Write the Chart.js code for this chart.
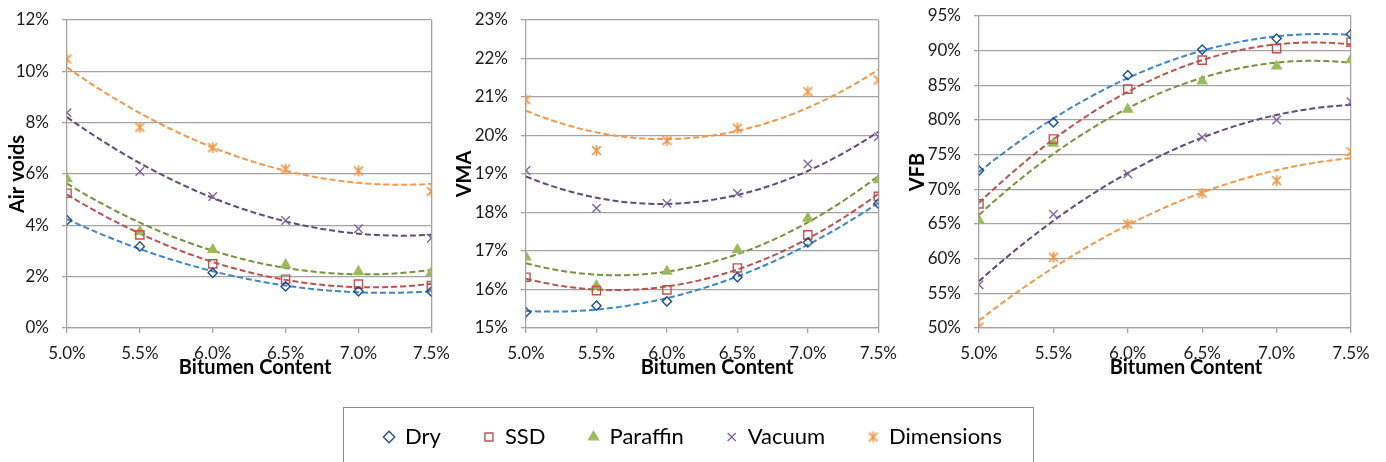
<!DOCTYPE html>
<html>
<head>
<meta charset="utf-8">
<script src="https://cdn.jsdelivr.net/npm/chart.js@4.4.0/dist/chart.umd.min.js"></script>
<style>
  body { margin: 0; background: #fff; width: 1386px; height: 462px; overflow: hidden; position: relative; }
  .pane { position: absolute; }
  #legendBorder { position: absolute; left: 343px; top: 407px; width: 691px; height: 80px; border: 1px solid #8c8c8c; box-sizing: border-box; }
</style>
</head>
<body>
<div class="pane" style="left:0;top:0"><canvas id="airChart" width="460" height="390"></canvas></div>
<div class="pane" style="left:447px;top:0"><canvas id="vmaChart" width="460" height="390"></canvas></div>
<div class="pane" style="left:900px;top:0"><canvas id="vfbChart" width="486" height="390"></canvas></div>
<div id="legendBorder"></div>
<div class="pane" style="left:243px;top:383px"><canvas id="legendChart" width="900" height="260"></canvas></div>

<script>
// Bitumen content (%) on the x axis
const bitumen = [5.0, 5.5, 6.0, 6.5, 7.0, 7.5];
const seriesNames = ['Dry', 'SSD', 'Paraffin', 'Vacuum', 'Dimensions'];
const xTitle = 'Bitumen Content';

// Air voids (%)
const airDry        = [4.2, 3.18, 2.15, 1.62, 1.43, 1.42];
const airSSD        = [5.25, 3.63, 2.5, 1.9, 1.71, 1.65];
const airParaffin   = [5.81, 3.76, 3.05, 2.46, 2.2, 2.16];
const airVacuum     = [8.39, 6.1, 5.12, 4.19, 3.87, 3.5];
const airDimensions = [10.48, 7.82, 7.03, 6.19, 6.12, 5.32];

// VMA (%)
const vmaDry        = [15.41, 15.58, 15.69, 16.32, 17.22, 18.23];
const vmaSSD        = [16.32, 15.97, 15.99, 16.56, 17.42, 18.42];
const vmaParaffin   = [16.84, 16.1, 16.47, 17.03, 17.85, 18.85];
const vmaVacuum     = [19.09, 18.11, 18.24, 18.5, 19.26, 19.97];
const vmaDimensions = [20.93, 19.61, 19.87, 20.19, 21.14, 21.44];

// VFB (%)
const vfbDry        = [72.7, 79.65, 86.47, 90.16, 91.75, 92.37];
const vfbSSD        = [67.9, 77.26, 84.45, 88.63, 90.3, 91.22];
const vfbParaffin   = [65.5, 76.63, 81.53, 85.6, 87.76, 88.72];
const vfbVacuum     = [56.24, 66.4, 72.2, 77.5, 79.99, 82.63];
const vfbDimensions = [50.14, 60.22, 64.97, 69.43, 71.26, 75.43];

const gridColor = '#a3a3a3';
const fontFamily = 'Lato, "Liberation Sans", sans-serif';

// star marker like the Excel one (x with a vertical bar)
function starMarker(color, size) {
  const c = document.createElement('canvas');
  c.width = c.height = size;
  const g = c.getContext('2d');
  const m = size / 2, r = size / 2 - 1;
  g.strokeStyle = color;
  g.lineWidth = 1.6;
  g.beginPath();
  g.moveTo(m - r * 0.8, m - r * 0.8); g.lineTo(m + r * 0.8, m + r * 0.8);
  g.moveTo(m + r * 0.8, m - r * 0.8); g.lineTo(m - r * 0.8, m + r * 0.8);
  g.moveTo(m, m - r); g.lineTo(m, m + r);
  g.stroke();
  return c;
}

const styles = [
  { marker: '#1f4e8c', trend: '#3d85cf', pointStyle: 'rectRot', radius: 4.6, fill: 'rgba(0,0,0,0)' },
  { marker: '#c0504d', trend: '#c0504d', pointStyle: 'rect', radius: 5.8, fill: 'rgba(0,0,0,0)' },
  { marker: '#9bbb59', trend: '#76923c', pointStyle: 'triangle', radius: 5.4, fill: '#9bbb59' },
  { marker: '#8064a2', trend: '#604a7b', pointStyle: 'crossRot', radius: 6, fill: 'rgba(0,0,0,0)' },
  { marker: '#f79646', trend: '#f79646', pointStyle: starMarker('#f79646', 13), radius: 6, fill: 'rgba(0,0,0,0)' }
];

// 2nd order polynomial trendline (least squares), like Excel's
function quadFit(xs, ys) {
  const S = [0, 0, 0, 0, 0], T = [0, 0, 0];
  xs.forEach((x, i) => {
    for (let k = 0; k < 5; k++) S[k] += Math.pow(x, k);
    for (let k = 0; k < 3; k++) T[k] += ys[i] * Math.pow(x, k);
  });
  const M = [[S[0], S[1], S[2], T[0]], [S[1], S[2], S[3], T[1]], [S[2], S[3], S[4], T[2]]];
  for (let i = 0; i < 3; i++) {
    for (let j = i + 1; j < 3; j++) {
      const f = M[j][i] / M[i][i];
      for (let k = i; k < 4; k++) M[j][k] -= f * M[i][k];
    }
  }
  const c = [0, 0, 0];
  for (let i = 2; i >= 0; i--) {
    let s = M[i][3];
    for (let k = i + 1; k < 3; k++) s -= M[i][k] * c[k];
    c[i] = s / M[i][i];
  }
  return c;
}

function trendPoints(ys) {
  const c = quadFit(bitumen, ys);
  const pts = [];
  const x0 = bitumen[0], x1 = bitumen[bitumen.length - 1];
  for (let i = 0; i <= 60; i++) {
    const x = x0 + (x1 - x0) * i / 60;
    pts.push({ x: x, y: c[0] + c[1] * x + c[2] * x * x });
  }
  return pts;
}

// x axis title, drawn a bit right of the plot centre as in the original
const xTitlePlugin = {
  id: 'xTitle',
  afterDraw(chart, args, opts) {
    const ctx = chart.ctx;
    const area = chart.chartArea;
    ctx.save();
    ctx.font = 'bold 20px ' + fontFamily;
    ctx.fillStyle = '#000';
    ctx.textAlign = 'center';
    ctx.textBaseline = 'middle';
    ctx.fillText(xTitle, (area.left + area.right) / 2 + opts.shift, 368);
    ctx.restore();
  }
};

function buildChart(id, seriesList, yMin, yMax, yStep, yTitle, layout) {
  const datasets = [];
  seriesList.forEach((ys, i) => {
    const st = styles[i];
    datasets.push({
      label: seriesNames[i],
      data: bitumen.map((x, k) => ({ x: x, y: ys[k] })),
      showLine: false,
      pointStyle: st.pointStyle,
      pointRadius: st.radius,
      pointBorderWidth: 1.4,
      pointBorderColor: st.marker,
      pointBackgroundColor: st.fill,
      borderColor: st.marker,
      backgroundColor: st.fill,
      order: 0
    });
    datasets.push({
      label: seriesNames[i] + ' trend',
      data: trendPoints(ys),
      showLine: true,
      pointRadius: 0,
      borderColor: st.trend,
      borderWidth: 2,
      borderDash: [6, 3],
      tension: 0,
      order: 1
    });
  });

  return new Chart(document.getElementById(id), {
    type: 'scatter',
    data: { datasets: datasets },
    plugins: [xTitlePlugin],
    options: {
      responsive: false,
      animation: false,
      layout: { padding: { left: 0, right: layout.right, top: layout.top, bottom: 0 } },
      plugins: {
        legend: { display: false },
        tooltip: { enabled: false },
        xTitle: { shift: layout.titleShift }
      },
      scales: {
        x: {
          type: 'linear',
          min: 5, max: 7.5,
          afterFit: function(scale) { scale.height = 62; },
          ticks: {
            stepSize: 0.5, maxRotation: 0, padding: 10, color: '#1a1a1a',
            font: { family: fontFamily, size: 17 },
            callback: v => v.toFixed(1) + '%'
          },
          grid: {
            color: ctx => (ctx.tick && ctx.tick.value === 7.5) ? gridColor : 'rgba(0,0,0,0)',
            tickColor: gridColor, tickLength: 5, lineWidth: 1.3
          },
          border: { color: gridColor, width: 1.3 }
        },
        y: {
          min: yMin, max: yMax,
          afterFit: function(scale) { scale.width = layout.yWidth; },
          ticks: {
            stepSize: yStep, padding: 13, color: '#1a1a1a',
            // small lineHeight keeps the label overhang from pushing the plot down
            font: { family: fontFamily, size: 17, lineHeight: 0.3 },
            callback: v => v + '%'
          },
          grid: { color: gridColor, tickColor: gridColor, tickLength: 5, lineWidth: 1.3 },
          border: { color: gridColor, width: 1.3 },
          title: {
            display: true, text: yTitle, color: '#000',
            font: { family: fontFamily, size: 20, weight: 'bold' },
            padding: { top: 6, bottom: 0 }
          }
        }
      }
    }
  });
}

buildChart('airChart', [airDry, airSSD, airParaffin, airVacuum, airDimensions], 0, 12, 2, 'Air voids',
  { yWidth: 67, right: 28, top: 20, titleShift: 6 });
buildChart('vmaChart', [vmaDry, vmaSSD, vmaParaffin, vmaVacuum, vmaDimensions], 15, 23, 1, 'VMA',
  { yWidth: 79, right: 25, top: 20, titleShift: 15 });
buildChart('vfbChart', [vfbDry, vfbSSD, vfbParaffin, vfbVacuum, vfbDimensions], 50, 95, 5, 'VFB',
  { yWidth: 79, right: 35, top: 16, titleShift: 21 });

// shared legend (tall canvas so the legend box is not capped at half the height)
new Chart(document.getElementById('legendChart'), {
  type: 'scatter',
  data: {
    datasets: seriesNames.map((name, i) => ({
      label: name,
      data: [],
      pointStyle: styles[i].pointStyle,
      pointRadius: styles[i].radius,
      pointBorderWidth: 1.4,
      borderColor: styles[i].marker,
      backgroundColor: styles[i].fill,
      borderWidth: 1.4
    }))
  },
  options: {
    responsive: false,
    animation: false,
    scales: { x: { display: false }, y: { display: false } },
    plugins: {
      tooltip: { enabled: false },
      legend: {
        display: true,
        position: 'top',
        labels: {
          usePointStyle: true,
          boxWidth: 10,
          boxHeight: 8,
          padding: 43,
          color: '#000',
          font: { family: fontFamily, size: 22 }
        }
      }
    }
  }
});
</script>
</body>
</html>
